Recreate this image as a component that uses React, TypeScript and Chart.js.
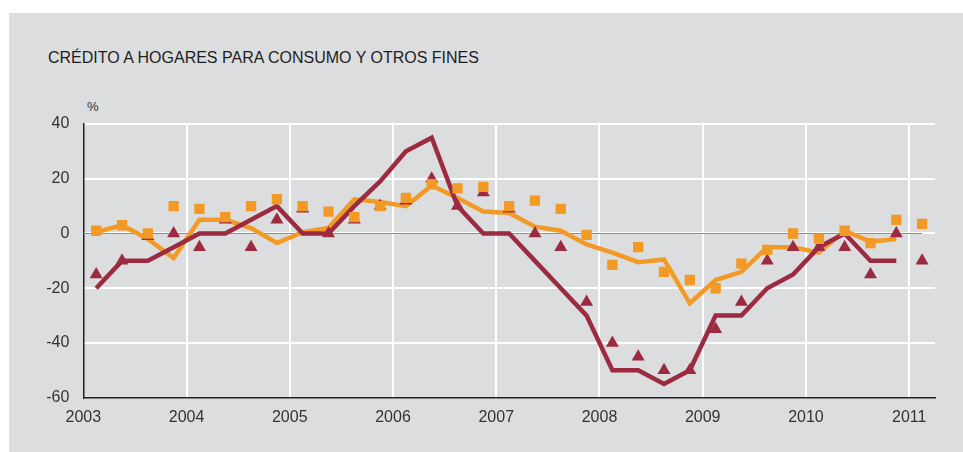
import React, { useEffect, useRef } from "react";
import { Chart, registerables } from "chart.js";

Chart.register(...registerables);

// ---- data ----
const years = [2003, 2004, 2005, 2006, 2007, 2008, 2009, 2010, 2011];
const yTicks = [-60, -40, -20, 0, 20, 40];

// quarterly categories 2003T1 .. 2011T1
const quarterLabels = years
  .flatMap((y) => [1, 2, 3, 4].map((q) => `${y}T${q}`))
  .slice(0, 33);

// orange line (2003T1 .. 2010T4)
const orangeLine = [
  0.5, 3, -2, -9, 5, 5, 2, -3.5,
  0.5, 2, 12.5, 11.5, 10, 17.5, 13, 8,
  7.5, 2.5, 1, -4, -7, -10.5, -9.5, -25.5,
  -17, -14, -5, -5, -7, 1, -3, -2,
];

// burgundy line (2003T1 .. 2010T4)
const burgundyLine = [
  -20, -10, -10, -5, 0, 0, 5, 10,
  0, 0, 10, 19, 30, 35, 10, 0,
  0, -10, -20, -30, -50, -50, -55, -50,
  -30, -30, -20, -15, -5, 0, -10, -10,
];

// orange squares (2003T1 .. 2011T1)
const orangeSquares = [
  1, 3, 0, 10, 9, 6, 10, 12.5,
  10, 8, 6, 10, 13, 18, 16.5, 17,
  10, 12, 9, -0.5, -11.5, -5, -14, -17,
  -20, -11, -6, 0, -2, 1, -3.5, 5,
  3.5,
];

// burgundy triangles (2003T1 .. 2011T1)
const burgundyTriangles = [
  -15, -10, -1, 0, -5, 5, -5, 5,
  9, 0, 5, 10, 12, 20, 10, 15,
  9, 0, -5, -25, -40, -45, -50, -50,
  -35, -25, -10, -5, -5, -5, -15, 0,
  -10,
];

const ORANGE = "#f39a26";
const BURGUNDY = "#9c2a40";
const PANEL = "#dcdddf";
const TEXT = "#333333";

// quarter label -> position on the time axis (middle of the quarter)
const quarterX = (label: string) => {
  const [y, q] = label.split("T").map(Number);
  return y + (q - 0.5) / 4;
};

const toPoints = (vals: number[]) =>
  vals.map((v, i) => ({ x: quarterX(quarterLabels[i]), y: v }));

export default function App() {
  const ref = useRef<HTMLCanvasElement | null>(null);

  useEffect(() => {
    if (!ref.current) return;
    const lastX = quarterX(quarterLabels[quarterLabels.length - 1]);
    const chart = new Chart(ref.current, {
      type: "scatter",
      data: {
        datasets: [
          {
            data: [
              { x: years[0], y: 0 },
              { x: lastX, y: 0 },
            ],
            showLine: true,
            borderColor: "#8c8c8c",
            borderWidth: 1,
            pointRadius: 0,
            order: 5,
          },
          {
            data: toPoints(orangeLine),
            showLine: true,
            borderColor: ORANGE,
            borderWidth: 4.5,
            borderJoinStyle: "miter",
            pointRadius: 0,
            tension: 0,
            order: 4,
          },
          {
            data: toPoints(burgundyLine),
            showLine: true,
            borderColor: BURGUNDY,
            borderWidth: 4.5,
            borderJoinStyle: "miter",
            pointRadius: 0,
            tension: 0,
            order: 3,
          },
          {
            data: toPoints(burgundyTriangles),
            showLine: false,
            pointStyle: "triangle",
            pointRadius: 7.5,
            pointBackgroundColor: BURGUNDY,
            pointBorderWidth: 0,
            order: 2,
          },
          {
            data: toPoints(orangeSquares),
            showLine: false,
            pointStyle: "rect",
            pointRadius: 7.3,
            pointBackgroundColor: ORANGE,
            pointBorderWidth: 0,
            order: 1,
          },
        ],
      },
      options: {
        animation: false,
        responsive: false,
        devicePixelRatio: 1,
        layout: { padding: { left: 0, right: 28, top: 124, bottom: 0 } },
        plugins: {
          legend: { display: false },
          tooltip: { enabled: false },
          title: { display: false },
        },
        scales: {
          x: {
            type: "linear",
            min: years[0],
            max: years[years.length - 1] + 0.25,
            afterFit: (s: any) => {
              s.height = 54.3;
            },
            afterBuildTicks: (s: any) => {
              s.ticks = years.map((v) => ({ value: v }));
            },
            grid: {
              color: (c: any) =>
                c.tick && c.tick.value === years[0] ? "rgba(0,0,0,0)" : "#ffffff",
              lineWidth: 2,
              drawTicks: false,
            },
            border: { display: true, color: "#222222", width: 1.5 },
            ticks: {
              padding: 10,
              color: TEXT,
              font: { family: "Liberation Sans, Arial, sans-serif", size: 16 },
              callback: (v: any) => String(v),
              maxRotation: 0,
            },
          },
          y: {
            type: "linear",
            min: yTicks[0],
            max: yTicks[yTicks.length - 1],
            afterFit: (s: any) => {
              s.width = 83.3;
            },
            afterBuildTicks: (s: any) => {
              s.ticks = yTicks.map((v) => ({ value: v }));
            },
            grid: {
              color: (c: any) =>
                c.tick && c.tick.value === yTicks[0] ? "rgba(0,0,0,0)" : "#ffffff",
              lineWidth: 2,
              drawTicks: false,
            },
            border: { display: true, color: "#222222", width: 1.5 },
            ticks: {
              padding: 14,
              color: TEXT,
              font: { family: "Liberation Sans, Arial, sans-serif", size: 16 },
              callback: (v: any) => String(v),
            },
          },
        },
      },
    });
    return () => chart.destroy();
  }, []);

  return (
    <div
      style={{
        position: "absolute",
        left: 0,
        top: 0,
        width: 963,
        height: 452,
        background: "#ffffff",
        overflow: "hidden",
        fontFamily: "Liberation Sans, Arial, sans-serif",
      }}
    >
      <div
        style={{
          position: "absolute",
          left: 9,
          top: 13,
          width: 954,
          height: 439,
          background: PANEL,
        }}
      />
      <div
        style={{
          position: "absolute",
          left: 48,
          top: 49.8,
          fontSize: 16,
          lineHeight: "16px",
          color: "#1e1e1e",
          whiteSpace: "nowrap",
        }}
      >
        CRÉDITO A HOGARES PARA CONSUMO Y OTROS FINES
      </div>
      <div
        style={{
          position: "absolute",
          left: 87,
          top: 100,
          fontSize: 13,
          lineHeight: "13px",
          color: TEXT,
        }}
      >
        %
      </div>
      <canvas
        ref={ref}
        width={963}
        height={452}
        style={{ position: "absolute", left: 0, top: 0, width: 963, height: 452 }}
      />
    </div>
  );
}
